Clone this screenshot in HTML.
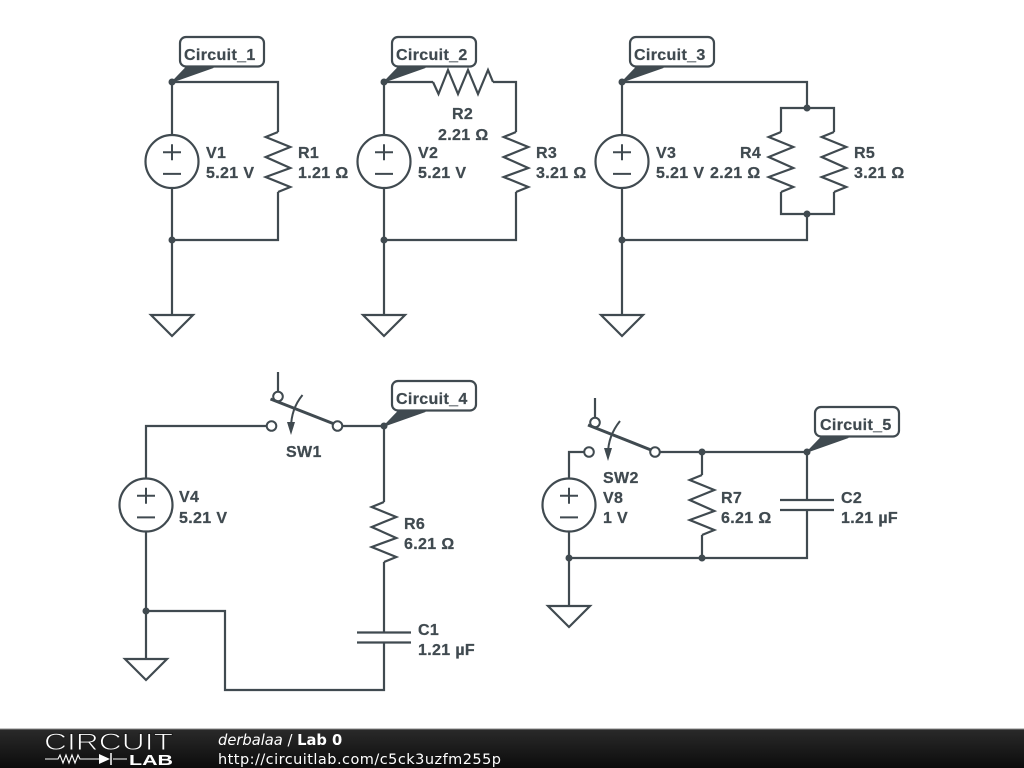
<!DOCTYPE html>
<html><head><meta charset="utf-8"><style>
html,body{margin:0;padding:0;background:#fff;width:1024px;height:768px;overflow:hidden}
svg{display:block}
.w{fill:none;stroke:#404a50;stroke-width:2.2;stroke-linejoin:miter}
.t{font:bold 16px "Liberation Sans",sans-serif;fill:#404a50;stroke:#404a50;stroke-width:.25;letter-spacing:.35px}
.n{fill:#404a50}
.c{fill:#fff;stroke:#404a50;stroke-width:2}
.p{fill:#fff;stroke:#404a50;stroke-width:2.2}
</style></head><body>
<svg width="1024" height="768" viewBox="0 0 1024 768" xmlns="http://www.w3.org/2000/svg">
<defs>
<g id="rv"><path class="w" d="M0 0L-12.3 5L12.3 15L-12.3 25L12.3 36L-12.3 45L12.3 55L0 60"/></g>
<g id="vs"><circle class="p" cx="0" cy="0" r="26.5"/><path class="w" style="stroke-width:2" d="M-9 -9.200H9M0 -17.200V-1.200M-9 12.400H9"/></g>
<g id="gnd"><path class="w" d="M-21 0H21L0 21Z"/></g>
<g id="tag"><rect class="p" x="8" y="-45" width="84" height="29.500" rx="6"/><path class="n" stroke="#404a50" stroke-width="1.200" stroke-linejoin="round" d="M0 0L14 -14.500H41Z"/></g>
</defs>

<!-- Circuit 1 -->
<path class="w" d="M172 82V135M172 188V315M172 82H278V132M278 192V240H172"/>
<use href="#rv" x="278" y="132"/><use href="#vs" x="172" y="161.500"/><use href="#gnd" x="172" y="315"/>
<circle class="n" cx="172" cy="240" r="3.500"/><circle class="n" cx="172" cy="82" r="3.500"/>
<use href="#tag" x="172" y="82"/>
<text class="t" x="184" y="60">Circuit_1</text>
<text class="t" x="206" y="158">V1</text><text class="t" x="206" y="178">5.21 V</text>
<text class="t" x="298" y="158">R1</text><text class="t" x="298" y="178">1.21 Ω</text>

<!-- Circuit 2 -->
<path class="w" d="M384 82V135M384 188V315M384 82H433M493 82H516V132M516 192V240H384"/>
<path class="w" d="M433 82L438.500 94L448 70L458 94L468 70L478 94L488 70L493 82"/>
<use href="#rv" x="516" y="132"/><use href="#vs" x="384" y="161.500"/><use href="#gnd" x="384" y="315"/>
<circle class="n" cx="384" cy="240" r="3.500"/><circle class="n" cx="384" cy="82" r="3.500"/>
<use href="#tag" x="384" y="82"/>
<text class="t" x="396" y="60">Circuit_2</text>
<text class="t" x="452" y="119">R2</text><text class="t" x="438" y="140">2.21 Ω</text>
<text class="t" x="418" y="158">V2</text><text class="t" x="418" y="178">5.21 V</text>
<text class="t" x="536" y="158">R3</text><text class="t" x="536" y="178">3.21 Ω</text>

<!-- Circuit 3 -->
<path class="w" d="M622 82V135M622 188V315M622 82H807V108M781 132V108H834V132M781 192V214H834V192M807 214V240H622"/>
<use href="#rv" x="781" y="132"/><use href="#rv" x="834" y="132"/><use href="#vs" x="622" y="161.500"/><use href="#gnd" x="622" y="315"/>
<circle class="n" cx="622" cy="240" r="3.500"/><circle class="n" cx="622" cy="82" r="3.500"/>
<circle class="n" cx="807" cy="108" r="3.500"/><circle class="n" cx="807" cy="214" r="3.500"/>
<use href="#tag" x="622" y="82"/>
<text class="t" x="634" y="60">Circuit_3</text>
<text class="t" x="656" y="158">V3</text><text class="t" x="656" y="178">5.21 V</text>
<text class="t" x="740" y="158">R4</text><text class="t" x="710" y="178">2.21 Ω</text>
<text class="t" x="854" y="158">R5</text><text class="t" x="854" y="178">3.21 Ω</text>

<!-- Circuit 4 -->
<path class="w" d="M146 478V426H267M146 532V659M342 426H384V502M384 562V632.500M357 632.500H411M357 642.500H411M384 642.500V690H225V611H146"/>
<use href="#rv" x="384" y="502"/><use href="#vs" x="146" y="505"/><use href="#gnd" x="146" y="659"/>
<circle class="n" cx="146" cy="611" r="3.500"/><circle class="n" cx="384" cy="426" r="3.500"/>
<path class="w" d="M278 372V392"/>
<circle class="c" cx="271.500" cy="426" r="4.800"/><circle class="c" cx="337.500" cy="426" r="4.800"/><circle class="c" cx="278" cy="396.500" r="4.800"/>
<path class="w" style="stroke-width:3" d="M270.500 399L333 423.500"/>
<path class="w" style="stroke-width:2" d="M302.500 395Q291 409 291 428"/><path class="n" d="M287 422H295L291 435Z"/>
<use href="#tag" x="384" y="426"/>
<text class="t" x="396" y="404">Circuit_4</text>
<text class="t" x="286" y="457">SW1</text>
<text class="t" x="179" y="502">V4</text><text class="t" x="179" y="523">5.21 V</text>
<text class="t" x="404" y="529">R6</text><text class="t" x="404" y="549">6.21 Ω</text>
<text class="t" x="418" y="635">C1</text><text class="t" x="418" y="655">1.21 µF</text>

<!-- Circuit 5 -->
<path class="w" d="M569 478V452H585M569 532V606M659 452H807V500M702 452V475M702 535V558M569 558H807V510M780 500H834M780 510H834"/>
<use href="#rv" x="702" y="475"/><use href="#vs" x="569" y="505"/><use href="#gnd" x="569" y="606"/>
<circle class="n" cx="569" cy="558" r="3.500"/><circle class="n" cx="702" cy="558" r="3.500"/>
<circle class="n" cx="702" cy="452" r="3.500"/><circle class="n" cx="807" cy="452" r="3.500"/>
<path class="w" d="M595 398V418"/>
<circle class="c" cx="589" cy="452" r="4.800"/><circle class="c" cx="655" cy="452" r="4.800"/><circle class="c" cx="595" cy="422.500" r="4.800"/>
<path class="w" style="stroke-width:3" d="M588 425L651 450"/>
<path class="w" style="stroke-width:2" d="M620 421Q608 436 608 454"/><path class="n" d="M604 448H612L608 461Z"/>
<use href="#tag" x="807" y="452"/>
<text class="t" x="820" y="430">Circuit_5</text>
<text class="t" x="603" y="483">SW2</text>
<text class="t" x="603" y="503">V8</text><text class="t" x="603" y="523">1 V</text>
<text class="t" x="721" y="503">R7</text><text class="t" x="721" y="523">6.21 Ω</text>
<text class="t" x="841" y="503">C2</text><text class="t" x="841" y="523">1.21 µF</text>

<!-- Footer -->
<defs><linearGradient id="fg" x1="0" y1="0" x2="0" y2="1"><stop offset="0" stop-color="#2a2a2a"/><stop offset="1" stop-color="#0c0c0c"/></linearGradient></defs>
<rect x="0" y="729" width="1024" height="39" fill="url(#fg)"/>
<rect x="0" y="728.500" width="1024" height="1" fill="#8a8a8a"/>
<text x="44" y="750" font-family="Liberation Sans,sans-serif" font-size="24" textLength="129" lengthAdjust="spacingAndGlyphs" fill="#fff" stroke="#1c1c1c" stroke-width=".9">CIRCUIT</text>
<path d="M45 759H58L60 755L63 763L66 755L69 763L72 755L75 763L78 755L80 759H99M113 759H127" fill="none" stroke="#fff" stroke-width="1.100"/>
<path d="M99 754V764L110 759Z" fill="#fff"/><path d="M111 753V765" stroke="#fff" stroke-width="1.500"/>
<text x="129" y="765" font-family="Liberation Sans,sans-serif" font-weight="bold" font-size="15" textLength="44" lengthAdjust="spacingAndGlyphs" fill="#fff">LAB</text>
<text x="218" y="745" font-family="DejaVu Sans,sans-serif" font-size="14.700" fill="#fff"><tspan font-style="italic">derbalaa</tspan> / <tspan font-weight="bold">Lab 0</tspan></text>
<text x="218" y="764" font-family="DejaVu Sans,sans-serif" font-size="14.500" textLength="283" fill="#fff">http://circuitlab.com/c5ck3uzfm255p</text>
</svg>
</body></html>
